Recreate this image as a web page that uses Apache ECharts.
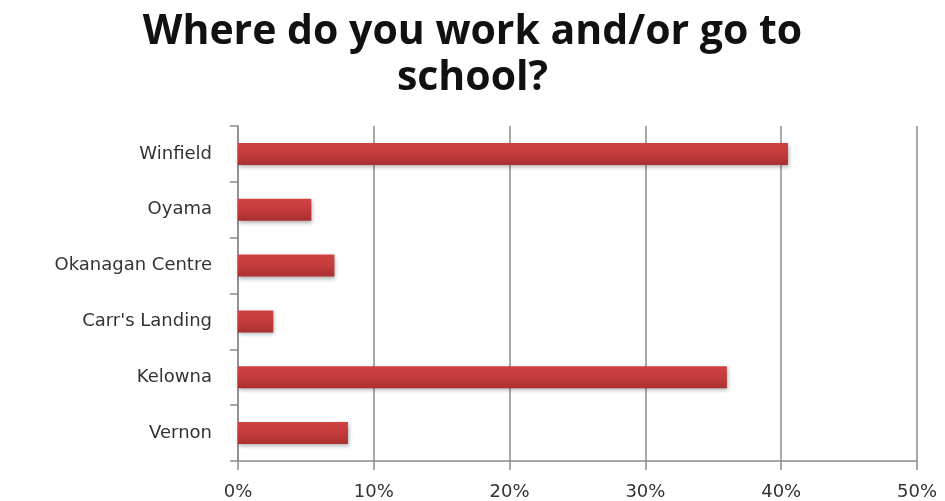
<!DOCTYPE html>
<html>
<head>
<meta charset="utf-8">
<script src="https://cdn.jsdelivr.net/npm/echarts@6/dist/echarts.min.js"></script>
<style>
  html, body { margin: 0; padding: 0; background: #fff; }
  #chart { width: 945px; height: 501px; }
</style>
</head>
<body>
<div id="chart"></div>
<script>
// Places where respondents work and/or go to school (share of responses, %)
const categories = ["Winfield", "Oyama", "Okanagan Centre", "Carr's Landing", "Kelowna", "Vernon"];
const shares = [40.5, 5.4, 7.1, 2.6, 36.0, 8.1];
const tickMax = 50;
const tickStep = 10;

const chart = echarts.init(document.getElementById('chart'));

chart.setOption({
  backgroundColor: '#ffffff',
  animation: false,
  title: {
    text: 'Where do you work and/or go to\nschool?',
    left: 'center',
    top: 4,
    textStyle: {
      fontFamily: 'Open Sans',
      fontWeight: 'bold',
      fontSize: 41,
      lineHeight: 46,
      color: '#111111'
    }
  },
  grid: { left: 238, right: 28, top: 126, bottom: 40 },
  xAxis: {
    type: 'value',
    min: 0,
    max: tickMax,
    interval: tickStep,
    axisLine: { show: true, lineStyle: { color: '#8c8c8c', width: 1.5 } },
    axisTick: { show: true, length: 9, lineStyle: { color: '#8c8c8c', width: 1.5 } },
    splitLine: { show: true, lineStyle: { color: '#8c8c8c', width: 1.5 } },
    axisLabel: {
      formatter: '{value}%',
      margin: 22,
      fontFamily: 'DejaVu Sans',
      fontSize: 18,
      color: '#333333'
    }
  },
  yAxis: {
    type: 'category',
    data: categories,
    inverse: true,
    axisLine: { show: true, lineStyle: { color: '#8c8c8c', width: 1.5 } },
    axisTick: { show: true, length: 8, lineStyle: { color: '#8c8c8c', width: 1.5 } },
    axisLabel: {
      margin: 26,
      fontFamily: 'DejaVu Sans',
      fontSize: 18,
      color: '#333333'
    }
  },
  series: [{
    type: 'bar',
    data: shares,
    barWidth: 22,
    itemStyle: {
      color: new echarts.graphic.LinearGradient(0, 0, 0, 1, [
        { offset: 0, color: '#d04242' },
        { offset: 0.5, color: '#c43b3b' },
        { offset: 1, color: '#a93030' }
      ]),
      shadowBlur: 4,
      shadowColor: 'rgba(0,0,0,0.3)',
      shadowOffsetX: 1,
      shadowOffsetY: 2
    }
  }]
});
</script>
</body>
</html>
